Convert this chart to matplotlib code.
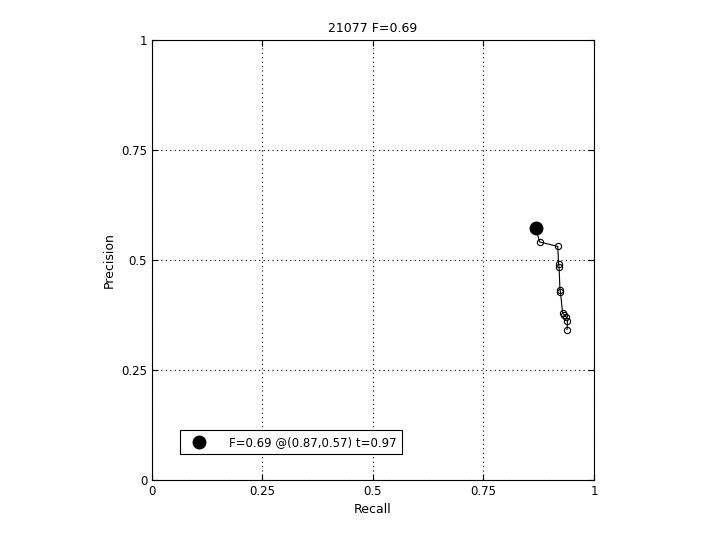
import matplotlib
matplotlib.use('Agg')
import matplotlib.pyplot as plt

# precision / recall curve points
recall = [0.868, 0.877, 0.918, 0.920, 0.921, 0.923, 0.924, 0.929, 0.933, 0.937, 0.940, 0.939]
precision = [0.573, 0.541, 0.531, 0.490, 0.484, 0.432, 0.428, 0.379, 0.375, 0.371, 0.361, 0.342]

# best F point
best_r = 0.868
best_p = 0.573
best_label = 'F=0.69 @(0.87,0.57) t=0.97'
title = '21077 F=0.69'
ticks = [0, 0.25, 0.5, 0.75, 1]
tick_labels = ['0', '0.25', '0.5', '0.75', '1']

plt.rcParams['font.family'] = ['DejaVu Sans']
fig = plt.figure(figsize=(7.2, 5.4), dpi=100)
ax = fig.add_axes([0.2111, 0.1111, 0.6139, 0.8148])

ax.plot(recall, precision, 'k-', lw=0.8)
ax.plot(recall, precision, 'o', mfc='none', mec='black', ms=4.5, mew=0.8)
ax.plot([best_r], [best_p], 'o', color='black', ms=9, label=best_label)

ax.set_xlim(0, 1)
ax.set_ylim(0, 1)
ax.set_xticks(ticks)
ax.set_xticklabels(tick_labels)
ax.set_yticks(ticks)
ax.set_yticklabels(tick_labels)
ax.tick_params(direction='in', labelsize=8.5, length=4, top=True, right=True)
ax.grid(True, linestyle=(0, (1, 3)), color='black', lw=0.8)
for s in ax.spines.values():
    s.set_linewidth(0.8)

ax.set_xlabel('Recall', fontsize=9)
ax.set_ylabel('Precision', fontsize=9)
ax.set_title(title, fontsize=9)

leg = ax.legend(loc='lower left', bbox_to_anchor=(0.063, 0.059), fontsize=8.5,
                fancybox=False, framealpha=1, edgecolor='black',
                borderpad=0.45, handlelength=2.4, handletextpad=1.3,
                borderaxespad=0)
leg.get_frame().set_linewidth(0.8)

fig.savefig('out.png', dpi=100)
